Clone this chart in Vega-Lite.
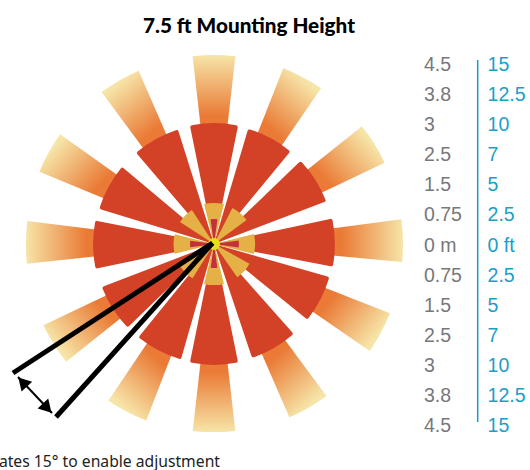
{
"$schema":"https://vega.github.io/schema/vega-lite/v6.json",
"width":530,"height":470,"padding":0,"autosize":{"type":"none"},
"background":"white",
"config":{"view":{"stroke":null}},
"title":{"text":"7.5 ft Mounting Height","font":"Lato","fontWeight":900,"fontSize":20.7,"color":"#000000","anchor":"middle","frame":"group","offset":-38,"dx":-16},
"datasets":{
"wedges":[
{"ring":"d000","start":-6.5,"end":6.5,"inner":3.7,"outer":6.3},
{"ring":"d028","start":21.5,"end":34.5,"inner":3.7,"outer":6.3},
{"ring":"d058","start":51.5,"end":64.5,"inner":3.7,"outer":6.3},
{"ring":"d089","start":82.5,"end":95.5,"inner":3.7,"outer":6.3},
{"ring":"d118","start":111.5,"end":124.5,"inner":3.7,"outer":6.3},
{"ring":"d150","start":143.5,"end":156.5,"inner":3.7,"outer":6.3},
{"ring":"d180","start":173.5,"end":186.5,"inner":3.7,"outer":6.27},
{"ring":"d207","start":201,"end":214,"inner":3.7,"outer":6.3},
{"ring":"d238","start":231.5,"end":244.5,"inner":3.7,"outer":6.3},
{"ring":"d270","start":264,"end":277,"inner":3.7,"outer":6.27},
{"ring":"d299","start":292.5,"end":305.5,"inner":3.7,"outer":6.3},
{"ring":"d330","start":323.5,"end":336.5,"inner":3.7,"outer":6.3},
{"ring":"red","start":-11.5,"end":11.5,"inner":0,"outer":4.03},
{"ring":"red","start":16.5,"end":39.5,"inner":0,"outer":4.0},
{"ring":"red","start":46.2,"end":69.2,"inner":0,"outer":4.0},
{"ring":"red","start":77.8,"end":100.8,"inner":0,"outer":4.03},
{"ring":"red","start":106,"end":129,"inner":0,"outer":4.0},
{"ring":"red","start":138.5,"end":161.5,"inner":0,"outer":4.0},
{"ring":"red","start":168.5,"end":191.5,"inner":0,"outer":4.03},
{"ring":"red","start":196,"end":219,"inner":0,"outer":4.0},
{"ring":"red","start":226,"end":249,"inner":0,"outer":4.0},
{"ring":"red","start":258.2,"end":281.2,"inner":0,"outer":4.03},
{"ring":"red","start":287,"end":310,"inner":0,"outer":4.0},
{"ring":"red","start":319.5,"end":342.5,"inner":0,"outer":4.0},
{"ring":"gold","start":-14,"end":14,"inner":0,"outer":1.37},
{"ring":"gold","start":27,"end":53.5,"inner":0,"outer":1.35},
{"ring":"gold","start":76,"end":104,"inner":0,"outer":1.37},
{"ring":"gold","start":119,"end":145,"inner":0,"outer":1.35},
{"ring":"gold","start":166,"end":194,"inner":0,"outer":1.37},
{"ring":"gold","start":212,"end":238,"inner":0,"outer":1.35},
{"ring":"gold","start":256,"end":284,"inner":0,"outer":1.35},
{"ring":"gold","start":303,"end":327,"inner":0,"outer":1.35},
{"ring":"crimson","start":-8,"end":8,"inner":0.1,"outer":0.83},
{"ring":"crimson","start":82,"end":98,"inner":0.1,"outer":0.83},
{"ring":"crimson","start":172,"end":188,"inner":0.1,"outer":0.8},
{"ring":"crimson","start":262,"end":278,"inner":0.1,"outer":0.8},
{"ring":"core","start":0,"end":360,"inner":0,"outer":0.2}
],
"marks":[
{"x":-6.7,"y":-4.3},
{"x":-5.267,"y":-5.767}
],
"heads":[
{"x":-6.38,"y":-4.6,"heading":317},
{"x":-5.56,"y":-5.47,"heading":137}
],
"arrow":[{"x":-6.533,"y":-4.433,"x2":-5.4,"y2":-5.633}],
"rows":[
{"step":6,"m":"4.5","ft":"15"},
{"step":5,"m":"3.8","ft":"12.5"},
{"step":4,"m":"3","ft":"10"},
{"step":3,"m":"2.5","ft":"7"},
{"step":2,"m":"1.5","ft":"5"},
{"step":1,"m":"0.75","ft":"2.5"},
{"step":0,"m":"0 m","ft":"0 ft"},
{"step":-1,"m":"0.75","ft":"2.5"},
{"step":-2,"m":"1.5","ft":"5"},
{"step":-3,"m":"2.5","ft":"7"},
{"step":-4,"m":"3","ft":"10"},
{"step":-5,"m":"3.8","ft":"12.5"},
{"step":-6,"m":"4.5","ft":"15"}
]
},
"data":{"name":"wedges"},
"encoding":{
"x":{"type":"quantitative","scale":{"domain":[-7.1333,10.5333],"nice":false,"zero":false},"axis":null},
"y":{"type":"quantitative","scale":{"domain":[-7.5333,8.1333],"nice":false,"zero":false},"axis":null}
},
"layer":[
{"transform":[{"filter":"datum.ring=='d000'"}],"mark":{"type":"arc","fill":{"gradient":"linear","x1":0.5,"y1":0.78,"x2":0.5,"y2":0,"stops":[{"offset":0,"color":"#EA7A35"},{"offset":1,"color":"#F6E5A8"}]}},"encoding":{"x":{"datum":0},"y":{"datum":0},"theta":{"field":"start","type":"quantitative","stack":null,"scale":{"domain":[0,360],"range":[0,6.28319]}},"theta2":{"field":"end"},"radius":{"field":"outer","type":"quantitative","scale":{"type":"linear","domain":[0,10],"range":[0,300]}},"radius2":{"field":"inner"}}},
{"transform":[{"filter":"datum.ring=='d028'"}],"mark":{"type":"arc","fill":{"gradient":"linear","x1":0.28,"y1":0.75,"x2":0.71,"y2":0.11,"stops":[{"offset":0,"color":"#EA7A35"},{"offset":1,"color":"#F6E5A8"}]}},"encoding":{"x":{"datum":0},"y":{"datum":0},"theta":{"field":"start","type":"quantitative","stack":null,"scale":{"domain":[0,360],"range":[0,6.28319]}},"theta2":{"field":"end"},"radius":{"field":"outer","type":"quantitative","scale":{"type":"linear","domain":[0,10],"range":[0,300]}},"radius2":{"field":"inner"}}},
{"transform":[{"filter":"datum.ring=='d058'"}],"mark":{"type":"arc","fill":{"gradient":"linear","x1":0.25,"y1":0.72,"x2":0.87,"y2":0.26,"stops":[{"offset":0,"color":"#EA7A35"},{"offset":1,"color":"#F6E5A8"}]}},"encoding":{"x":{"datum":0},"y":{"datum":0},"theta":{"field":"start","type":"quantitative","stack":null,"scale":{"domain":[0,360],"range":[0,6.28319]}},"theta2":{"field":"end"},"radius":{"field":"outer","type":"quantitative","scale":{"type":"linear","domain":[0,10],"range":[0,300]}},"radius2":{"field":"inner"}}},
{"transform":[{"filter":"datum.ring=='d089'"}],"mark":{"type":"arc","fill":{"gradient":"linear","x1":0.22,"y1":0.5,"x2":1,"y2":0.5,"stops":[{"offset":0,"color":"#EA7A35"},{"offset":1,"color":"#F6E5A8"}]}},"encoding":{"x":{"datum":0},"y":{"datum":0},"theta":{"field":"start","type":"quantitative","stack":null,"scale":{"domain":[0,360],"range":[0,6.28319]}},"theta2":{"field":"end"},"radius":{"field":"outer","type":"quantitative","scale":{"type":"linear","domain":[0,10],"range":[0,300]}},"radius2":{"field":"inner"}}},
{"transform":[{"filter":"datum.ring=='d118'"}],"mark":{"type":"arc","fill":{"gradient":"linear","x1":0.25,"y1":0.3,"x2":0.89,"y2":0.71,"stops":[{"offset":0,"color":"#EA7A35"},{"offset":1,"color":"#F6E5A8"}]}},"encoding":{"x":{"datum":0},"y":{"datum":0},"theta":{"field":"start","type":"quantitative","stack":null,"scale":{"domain":[0,360],"range":[0,6.28319]}},"theta2":{"field":"end"},"radius":{"field":"outer","type":"quantitative","scale":{"type":"linear","domain":[0,10],"range":[0,300]}},"radius2":{"field":"inner"}}},
{"transform":[{"filter":"datum.ring=='d150'"}],"mark":{"type":"arc","fill":{"gradient":"linear","x1":0.28,"y1":0.25,"x2":0.725,"y2":0.88,"stops":[{"offset":0,"color":"#EA7A35"},{"offset":1,"color":"#F6E5A8"}]}},"encoding":{"x":{"datum":0},"y":{"datum":0},"theta":{"field":"start","type":"quantitative","stack":null,"scale":{"domain":[0,360],"range":[0,6.28319]}},"theta2":{"field":"end"},"radius":{"field":"outer","type":"quantitative","scale":{"type":"linear","domain":[0,10],"range":[0,300]}},"radius2":{"field":"inner"}}},
{"transform":[{"filter":"datum.ring=='d180'"}],"mark":{"type":"arc","fill":{"gradient":"linear","x1":0.5,"y1":0.22,"x2":0.5,"y2":1,"stops":[{"offset":0,"color":"#EA7A35"},{"offset":1,"color":"#F6E5A8"}]}},"encoding":{"x":{"datum":0},"y":{"datum":0},"theta":{"field":"start","type":"quantitative","stack":null,"scale":{"domain":[0,360],"range":[0,6.28319]}},"theta2":{"field":"end"},"radius":{"field":"outer","type":"quantitative","scale":{"type":"linear","domain":[0,10],"range":[0,300]}},"radius2":{"field":"inner"}}},
{"transform":[{"filter":"datum.ring=='d207'"}],"mark":{"type":"arc","fill":{"gradient":"linear","x1":0.72,"y1":0.25,"x2":0.29,"y2":0.89,"stops":[{"offset":0,"color":"#EA7A35"},{"offset":1,"color":"#F6E5A8"}]}},"encoding":{"x":{"datum":0},"y":{"datum":0},"theta":{"field":"start","type":"quantitative","stack":null,"scale":{"domain":[0,360],"range":[0,6.28319]}},"theta2":{"field":"end"},"radius":{"field":"outer","type":"quantitative","scale":{"type":"linear","domain":[0,10],"range":[0,300]}},"radius2":{"field":"inner"}}},
{"transform":[{"filter":"datum.ring=='d238'"}],"mark":{"type":"arc","fill":{"gradient":"linear","x1":0.75,"y1":0.28,"x2":0.13,"y2":0.74,"stops":[{"offset":0,"color":"#EA7A35"},{"offset":1,"color":"#F6E5A8"}]}},"encoding":{"x":{"datum":0},"y":{"datum":0},"theta":{"field":"start","type":"quantitative","stack":null,"scale":{"domain":[0,360],"range":[0,6.28319]}},"theta2":{"field":"end"},"radius":{"field":"outer","type":"quantitative","scale":{"type":"linear","domain":[0,10],"range":[0,300]}},"radius2":{"field":"inner"}}},
{"transform":[{"filter":"datum.ring=='d270'"}],"mark":{"type":"arc","fill":{"gradient":"linear","x1":0.78,"y1":0.5,"x2":0,"y2":0.5,"stops":[{"offset":0,"color":"#EA7A35"},{"offset":1,"color":"#F6E5A8"}]}},"encoding":{"x":{"datum":0},"y":{"datum":0},"theta":{"field":"start","type":"quantitative","stack":null,"scale":{"domain":[0,360],"range":[0,6.28319]}},"theta2":{"field":"end"},"radius":{"field":"outer","type":"quantitative","scale":{"type":"linear","domain":[0,10],"range":[0,300]}},"radius2":{"field":"inner"}}},
{"transform":[{"filter":"datum.ring=='d299'"}],"mark":{"type":"arc","fill":{"gradient":"linear","x1":0.75,"y1":0.72,"x2":0.12,"y2":0.26,"stops":[{"offset":0,"color":"#EA7A35"},{"offset":1,"color":"#F6E5A8"}]}},"encoding":{"x":{"datum":0},"y":{"datum":0},"theta":{"field":"start","type":"quantitative","stack":null,"scale":{"domain":[0,360],"range":[0,6.28319]}},"theta2":{"field":"end"},"radius":{"field":"outer","type":"quantitative","scale":{"type":"linear","domain":[0,10],"range":[0,300]}},"radius2":{"field":"inner"}}},
{"transform":[{"filter":"datum.ring=='d330'"}],"mark":{"type":"arc","fill":{"gradient":"linear","x1":0.72,"y1":0.75,"x2":0.29,"y2":0.11,"stops":[{"offset":0,"color":"#EA7A35"},{"offset":1,"color":"#F6E5A8"}]}},"encoding":{"x":{"datum":0},"y":{"datum":0},"theta":{"field":"start","type":"quantitative","stack":null,"scale":{"domain":[0,360],"range":[0,6.28319]}},"theta2":{"field":"end"},"radius":{"field":"outer","type":"quantitative","scale":{"type":"linear","domain":[0,10],"range":[0,300]}},"radius2":{"field":"inner"}}},
{"transform":[{"filter":"datum.ring=='red'"}],"mark":{"type":"arc","fill":"#D34227","cornerRadius":2},"encoding":{"x":{"datum":0},"y":{"datum":0},"theta":{"field":"start","type":"quantitative","stack":null,"scale":{"domain":[0,360],"range":[0,6.28319]}},"theta2":{"field":"end"},"radius":{"field":"outer","type":"quantitative","scale":{"type":"linear","domain":[0,10],"range":[0,300]}},"radius2":{"field":"inner"}}},
{"transform":[{"filter":"datum.ring=='gold'"}],"mark":{"type":"arc","fill":"#E5B045"},"encoding":{"x":{"datum":0},"y":{"datum":0},"theta":{"field":"start","type":"quantitative","stack":null,"scale":{"domain":[0,360],"range":[0,6.28319]}},"theta2":{"field":"end"},"radius":{"field":"outer","type":"quantitative","scale":{"type":"linear","domain":[0,10],"range":[0,300]}},"radius2":{"field":"inner"}}},
{"transform":[{"filter":"datum.ring=='crimson'"}],"mark":{"type":"arc","fill":"#C2313C"},"encoding":{"x":{"datum":0},"y":{"datum":0},"theta":{"field":"start","type":"quantitative","stack":null,"scale":{"domain":[0,360],"range":[0,6.28319]}},"theta2":{"field":"end"},"radius":{"field":"outer","type":"quantitative","scale":{"type":"linear","domain":[0,10],"range":[0,300]}},"radius2":{"field":"inner"}}},
{"transform":[{"filter":"datum.ring=='core'"}],"mark":{"type":"arc","fill":"#E6DF1B"},"encoding":{"x":{"datum":0},"y":{"datum":0},"theta":{"field":"start","type":"quantitative","stack":null,"scale":{"domain":[0,360],"range":[0,6.28319]}},"theta2":{"field":"end"},"radius":{"field":"outer","type":"quantitative","scale":{"type":"linear","domain":[0,10],"range":[0,300]}},"radius2":{"field":"inner"}}},
{"data":{"name":"marks"},
 "mark":{"type":"rule","color":"#000000","strokeWidth":5},
 "encoding":{"x":{"field":"x","type":"quantitative"},"y":{"field":"y","type":"quantitative"},"x2":{"datum":-0.05},"y2":{"datum":0.03}}},
{"data":{"name":"arrow"},
 "mark":{"type":"rule","color":"#000000","strokeWidth":2},
 "encoding":{"x":{"field":"x","type":"quantitative"},"y":{"field":"y","type":"quantitative"},"x2":{"field":"x2"},"y2":{"field":"y2"}}},
{"data":{"name":"heads"},
 "mark":{"type":"point","shape":"triangle-up","filled":true,"color":"#000000","opacity":1,"size":210},
 "encoding":{"x":{"field":"x","type":"quantitative"},"y":{"field":"y","type":"quantitative"},"angle":{"field":"heading","type":"quantitative","scale":{"domain":[0,360],"range":[0,360]}}}},
{"data":{"name":"rows"},
 "mark":{"type":"text","align":"left","baseline":"middle","font":"Liberation Sans","fontSize":19.5,"color":"#77787B","dy":1.5},
 "encoding":{"x":{"datum":7.0},"y":{"field":"step","type":"quantitative"},"text":{"field":"m"}}},
{"data":{"name":"rows"},
 "mark":{"type":"text","align":"left","baseline":"middle","font":"Liberation Sans","fontSize":19.5,"color":"#1AA0C6","dy":1.5},
 "encoding":{"x":{"datum":9.12},"y":{"field":"step","type":"quantitative"},"text":{"field":"ft"}}},
{"data":{"values":[{"top":6.13,"bottom":-5.93}]},
 "mark":{"type":"rule","color":"#1A9DC0","strokeWidth":1.5},
 "encoding":{"x":{"datum":8.79},"y":{"field":"top","type":"quantitative"},"y2":{"field":"bottom"}}},
{"data":{"values":[{"caption":"ates 15° to enable adjustment"}]},
 "mark":{"type":"text","align":"right","baseline":"middle","font":"Noto Sans","fontSize":15.7,"color":"#222222"},
 "encoding":{"x":{"datum":0.2},"y":{"datum":-7.27},"text":{"field":"caption"}}}
]
}
